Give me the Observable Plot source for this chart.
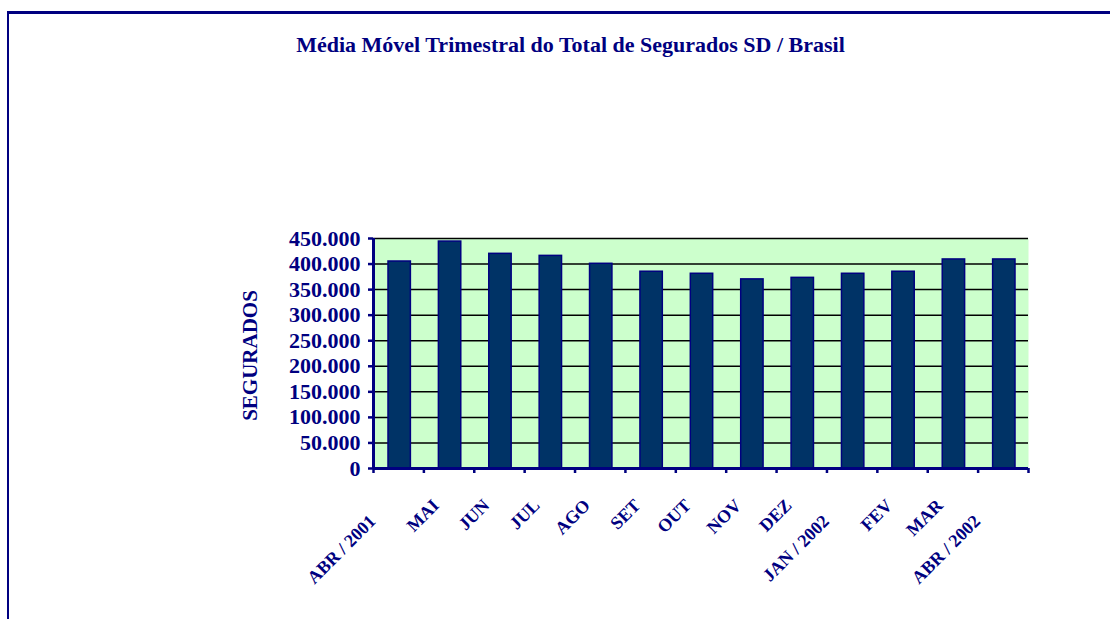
<!DOCTYPE html>
<html>
<head>
<meta charset="utf-8">
<script src="https://cdn.jsdelivr.net/npm/d3@7"></script>
<script src="https://cdn.jsdelivr.net/npm/@observablehq/plot@0.6"></script>
<style>
  html, body { margin: 0; padding: 0; background: #fff; width: 1110px; height: 619px; overflow: hidden; }
  #frame { position: absolute; left: 7px; top: 11px; width: 1110px; height: 620px;
           border-top: 3px solid #000080; border-left: 2px solid #000080; box-sizing: border-box; }
  #title { position: absolute; top: 32px; left: 0; width: 1141px; text-align: center;
           font-family: "Liberation Serif", serif; font-weight: bold; font-size: 22px; color: #000080; }
  #chart { position: absolute; left: 0; top: 200px; }
</style>
</head>
<body>
<div id="frame"></div>
<div id="title">Média Móvel Trimestral do Total de Segurados SD / Brasil</div>
<div id="chart"></div>
<script>
const months = ["ABR / 2001", "MAI", "JUN", "JUL", "AGO", "SET", "OUT", "NOV", "DEZ", "JAN / 2002", "FEV", "MAR", "ABR / 2002"];
const segurados = [405000, 444000, 420000, 416000, 400500, 385000, 381000, 370000, 373000, 381000, 385000, 409000, 409000];
const yTicks = [0, 50000, 100000, 150000, 200000, 250000, 300000, 350000, 400000, 450000];
const yTitle = "SEGURADOS";

const data = months.map((m, i) => ({i, label: m, value: segurados[i]}));
const isLong = d => d.label.length > 4;
const fmt = d => d3.format(",")(d).replace(/,/g, ".");
const navy = "#000080";

const chart = Plot.plot({
  width: 1110,
  height: 419,
  marginTop: 38,
  marginLeft: 373,
  marginRight: 82,
  marginBottom: 151,
  x: {type: "linear", domain: [0, months.length], axis: null, label: null},
  y: {domain: [0, 450000], axis: null, label: null},
  style: {fontFamily: "Liberation Serif, serif", fontWeight: "bold", color: navy, background: "transparent", overflow: "visible"},
  marks: [
    Plot.frame({fill: "#CCFFCC", stroke: null}),
    Plot.ruleY(yTicks, {stroke: "black", strokeWidth: 1.5}),
    Plot.rectY(data, {x1: "i", x2: d => d.i + 1, y: "value", insetLeft: 15, insetRight: 13,
                      fill: "#003366", stroke: navy, strokeWidth: 1.5}),
    Plot.ruleY([0], {stroke: navy, strokeWidth: 3}),
    Plot.ruleX([0], {stroke: navy, strokeWidth: 3}),
    Plot.axisY({ticks: yTicks, tickSize: 5, tickPadding: 8, tickFormat: fmt, fontSize: 22,
                stroke: navy, strokeWidth: 2.5, fill: navy, label: null}),
    Plot.axisX({ticks: d3.range(months.length + 1), tickSize: 5, tickFormat: () => "",
                stroke: navy, strokeWidth: 2.5, label: null}),
    Plot.text([yTitle], {frameAnchor: "left", rotate: -90, textAnchor: "middle", dx: -123, dy: 2, fontSize: 21, fill: navy}),
    Plot.text(data.filter(d => !isLong(d)), {x: d => d.i + 0.5, frameAnchor: "bottom", text: "label",
      rotate: -45, textAnchor: "end", lineAnchor: "bottom", dx: -9, dy: 38, fontSize: 18, letterSpacing: "-1px", fill: navy}),
    Plot.text(data.filter(isLong), {x: d => d.i + 0.5, frameAnchor: "bottom", text: "label",
      rotate: -45, textAnchor: "end", lineAnchor: "bottom", dx: -22, dy: 54, fontSize: 18, letterSpacing: "-1px", fill: navy})
  ]
});
document.getElementById("chart").appendChild(chart);
</script>
</body>
</html>
